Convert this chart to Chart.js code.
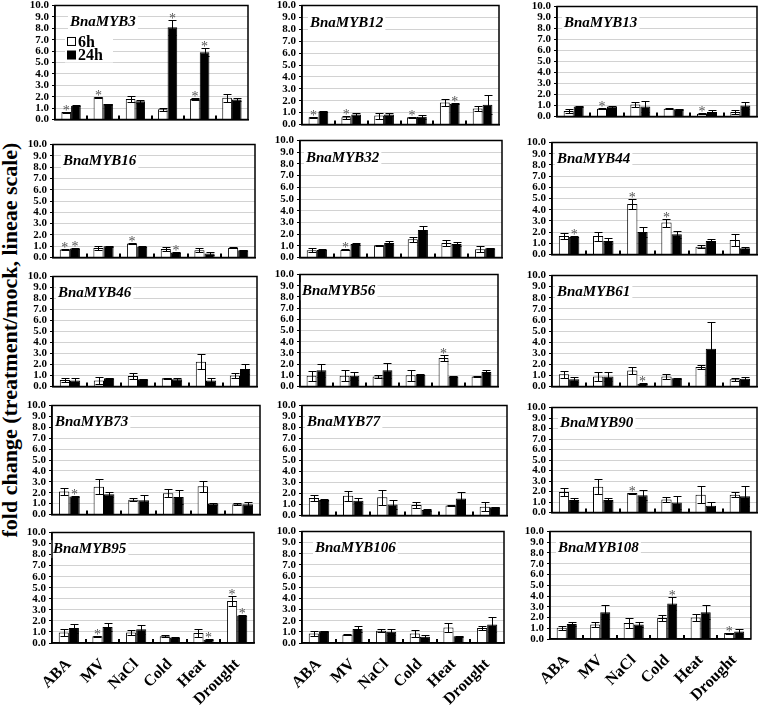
<!DOCTYPE html>
<html>
<head>
<meta charset="utf-8">
<script src="https://cdn.jsdelivr.net/npm/chart.js@4.4.0/dist/chart.umd.min.js"></script>
<style>
  body { margin: 0; background: #fff; width: 760px; height: 707px; position: relative; overflow: hidden; }
  canvas.panel { position: absolute; }
  #ytitle {
    position: absolute; left: 10px; top: 340px;
    transform: translate(-50%, -50%) rotate(-90deg);
    white-space: nowrap; font: bold 22px "Liberation Serif", serif; color: #000;
  }
</style>
</head>
<body>
<div id="ytitle">fold change (treatment/mock, lineae scale)</div>
<script>
// treatments on the x axis
var treatments = ["ABA", "MV", "NaCl", "Cold", "Heat", "Drought"];
var genes = ["BnaMYB3", "BnaMYB12", "BnaMYB13", "BnaMYB16", "BnaMYB32", "BnaMYB44",
             "BnaMYB46", "BnaMYB56", "BnaMYB61", "BnaMYB73", "BnaMYB77", "BnaMYB90",
             "BnaMYB95", "BnaMYB106", "BnaMYB108"];

// fold change after 6h
var mean6h = [
  [0.65, 1.95, 1.8, 0.9, 1.8, 1.9],
  [0.6, 0.6, 0.75, 0.6, 1.85, 1.35],
  [0.5, 0.7, 1.1, 0.7, 0.25, 0.4],
  [0.7, 0.85, 1.25, 0.75, 0.65, 0.85],
  [0.62, 0.65, 1.05, 1.55, 1.25, 0.7],
  [1.65, 1.65, 4.5, 2.85, 0.7, 1.3],
  [0.6, 0.55, 0.95, 0.75, 2.25, 1.0],
  [0.95, 0.95, 0.9, 1.0, 2.55, 0.9],
  [1.1, 0.9, 1.45, 0.9, 1.75, 0.65],
  [2.1, 2.55, 1.35, 1.95, 2.6, 0.95],
  [1.6, 1.8, 1.65, 0.95, 0.9, 0.8],
  [1.95, 2.45, 1.85, 1.25, 1.7, 1.7],
  [0.95, 0.6, 0.95, 0.6, 0.9, 3.8],
  [0.85, 0.75, 1.1, 0.85, 1.4, 1.35],
  [1.05, 1.35, 1.5, 1.95, 2.0, 0.55]
];
var err6h = [
  [0.05, 0.05, 0.25, 0.15, 0.05, 0.35],
  [0.05, 0.1, 0.25, 0.05, 0.3, 0.2],
  [0.2, 0.05, 0.2, 0.05, 0.05, 0.15],
  [0.05, 0.2, 0.05, 0.2, 0.2, 0.05],
  [0.15, 0.05, 0.05, 0.2, 0.25, 0.25],
  [0.3, 0.4, 0.45, 0.35, 0.15, 0.5],
  [0.15, 0.3, 0.3, 0.05, 0.7, 0.25],
  [0.45, 0.5, 0.15, 0.5, 0.3, 0.05],
  [0.3, 0.4, 0.3, 0.25, 0.15, 0.15],
  [0.35, 0.7, 0.15, 0.35, 0.5, 0.12],
  [0.3, 0.45, 0.7, 0.3, 0.05, 0.4],
  [0.4, 0.7, 0.05, 0.25, 0.8, 0.25],
  [0.3, 0.05, 0.25, 0.1, 0.35, 0.45],
  [0.25, 0.05, 0.15, 0.35, 0.4, 0.2],
  [0.2, 0.2, 0.45, 0.25, 0.35, 0.05]
];
// fold change after 24h
var mean24h = [
  [1.2, 1.35, 1.6, 8.1, 5.9, 1.75],
  [1.1, 0.85, 0.85, 0.65, 1.75, 1.65],
  [0.9, 0.9, 0.9, 0.65, 0.4, 1.0],
  [0.8, 1.0, 0.95, 0.45, 0.35, 0.65],
  [0.65, 1.15, 1.25, 2.35, 1.15, 0.8],
  [1.57, 1.2, 2.0, 1.8, 1.2, 0.55],
  [0.55, 0.75, 0.65, 0.65, 0.55, 1.6],
  [1.45, 0.95, 1.45, 1.05, 0.9, 1.3],
  [0.65, 0.9, 0.25, 0.75, 3.4, 0.7],
  [1.65, 1.85, 1.3, 1.6, 1.0, 0.95],
  [1.4, 1.35, 1.0, 0.5, 1.55, 0.75],
  [1.2, 1.2, 1.65, 0.95, 0.65, 1.55],
  [1.35, 1.45, 1.25, 0.5, 0.3, 2.5],
  [1.05, 1.25, 1.0, 0.55, 0.6, 1.65],
  [1.4, 2.5, 1.35, 3.3, 2.5, 0.7]
];
var err24h = [
  [0.05, 0.05, 0.15, 0.65, 0.35, 0.15],
  [0.05, 0.15, 0.15, 0.15, 0.05, 0.8],
  [0.05, 0.1, 0.5, 0.05, 0.15, 0.35],
  [0.05, 0.05, 0.05, 0.05, 0.15, 0.05],
  [0.05, 0.05, 0.2, 0.35, 0.15, 0.05],
  [0.05, 0.3, 0.45, 0.3, 0.2, 0.1],
  [0.25, 0.05, 0.05, 0.15, 0.25, 0.45],
  [0.6, 0.35, 0.65, 0.05, 0.05, 0.2],
  [0.25, 0.4, 0.05, 0.05, 2.45, 0.15],
  [0.05, 0.2, 0.45, 0.65, 0.1, 0.2],
  [0.1, 0.25, 0.4, 0.1, 0.55, 0.05],
  [0.2, 0.15, 0.5, 0.6, 0.35, 0.95],
  [0.4, 0.35, 0.4, 0.05, 0.05, 0.05],
  [0.05, 0.3, 0.25, 0.15, 0.05, 0.7],
  [0.2, 0.65, 0.25, 0.6, 0.65, 0.25]
];
// treatments marked with * (index into treatments)
var star6h = [[0, 1, 4], [0, 1, 3], [1, 4], [0, 2], [1], [2, 3], [], [4], [], [], [], [2], [1, 5], [], [5]];
var star24h = [[3, 4], [4], [], [0, 3], [], [0], [], [], [2], [0], [], [], [4, 5], [], [3]];

// plot area of each panel on the page: left, top (10.0), right, bottom (0.0)
var panelBox = [
  [55, 5, 248, 120], [302, 5, 499, 125], [557, 6, 757, 117],
  [53, 144, 255, 258], [300, 140, 502, 258], [552, 142, 757, 255],
  [53, 276, 257, 387], [300, 274, 498, 387], [552, 275, 757, 387],
  [52, 405, 260, 515], [302, 405, 507, 516], [552, 407, 757, 513],
  [52, 532, 260, 643], [302, 531, 510, 643], [550, 531, 757, 639]
];
var nameDx = [15, 8, 7, 10, 6, 5, 5, 2, 5, 3, 5, 8, 1, 13, 8];

var SERIF = '"Liberation Serif", "Times New Roman", serif';

var decor = {
  id: 'decor',
  beforeDatasetsDraw: function (chart) {
    var ctx = chart.ctx, a = chart.chartArea, y = chart.scales.y;
    var o = chart.options.plugins.decor;
    ctx.save();
    // gene name
    ctx.font = 'italic bold 15px ' + SERIF;
    ctx.textBaseline = 'middle';
    var ny = y.getPixelForValue(8.5), nx = a.left + o.dx;
    var w = ctx.measureText(o.name).width;
    ctx.fillStyle = '#fff';
    ctx.fillRect(nx - 2, ny - 9, w + 4, 18);
    ctx.fillStyle = '#000';
    ctx.fillText(o.name, nx, ny);
    if (o.legend) {
      var lx = a.left + 12;
      ctx.fillStyle = '#fff';
      ctx.fillRect(lx - 2, y.getPixelForValue(7.5), 48, y.getPixelForValue(5) - y.getPixelForValue(7.5));
      ctx.font = 'bold 16px ' + SERIF;
      var y1 = y.getPixelForValue(6.8), y2 = y.getPixelForValue(5.7);
      ctx.strokeStyle = '#000';
      ctx.lineWidth = 1;
      ctx.strokeRect(lx + 0.5, y1 - 4.5, 8, 8);
      ctx.fillStyle = '#000';
      ctx.fillRect(lx, y2 - 4, 9, 9);
      ctx.fillText(chart.data.datasets[0].label, lx + 11, y1 + 1);
      ctx.fillText(chart.data.datasets[1].label, lx + 11, y2 + 1);
    }
    ctx.restore();
  },
  afterDatasetsDraw: function (chart) {
    var ctx = chart.ctx, a = chart.chartArea, y = chart.scales.y;
    ctx.save();
    chart.data.datasets.forEach(function (ds, di) {
      var meta = chart.getDatasetMeta(di);
      meta.data.forEach(function (bar, i) {
        var v = ds.data[i], e = ds.errors[i];
        var cx = Math.round(bar.x) + 0.5;
        var yt = Math.round(y.getPixelForValue(v + e)) + 0.5;
        var yb = Math.round(y.getPixelForValue(Math.max(v - e, 0))) + 0.5;
        ctx.strokeStyle = '#000';
        ctx.lineWidth = 1;
        ctx.beginPath();
        ctx.moveTo(cx, yt); ctx.lineTo(cx, yb);
        ctx.moveTo(cx - 4, yt); ctx.lineTo(cx + 4, yt);
        ctx.moveTo(cx - 4, yb); ctx.lineTo(cx + 4, yb);
        ctx.stroke();
        if (ds.stars.indexOf(i) >= 0) {
          ctx.fillStyle = '#555';
          ctx.font = '14px ' + SERIF;
          ctx.textAlign = 'center';
          ctx.textBaseline = 'alphabetic';
          ctx.fillText('*', bar.x, yt + 2);
        }
      });
    });
    // frame and inner ticks on the x axis
    ctx.strokeStyle = '#000';
    ctx.lineWidth = 1.5;
    ctx.strokeRect(a.left, a.top, a.right - a.left, a.bottom - a.top);
    ctx.lineWidth = 2;
    ctx.beginPath();
    for (var k = 1; k < 6; k++) {
      var tx = Math.round(a.left + k * (a.right - a.left) / 6);
      ctx.moveTo(tx, a.bottom); ctx.lineTo(tx, a.bottom - 4);
    }
    ctx.stroke();
    ctx.restore();
  }
};

genes.forEach(function (name, g) {
  var row = Math.floor(g / 3);
  var box = panelBox[g];
  var L = box[0], T = box[1], R = box[2], B = box[3];
  var yW = 48, padT = 8, padR = 3;
  var last = row === 4;
  var xh = last ? 64 : 2, padB = last ? 2 : 6;
  var cv = document.createElement('canvas');
  cv.className = 'panel';
  cv.width = R - L + yW + padR;
  cv.height = B - T + padT + xh + padB;
  cv.style.left = (L - yW) + 'px';
  cv.style.top = (T - padT) + 'px';
  document.body.appendChild(cv);

  new Chart(cv.getContext('2d'), {
    type: 'bar',
    data: {
      labels: treatments,
      datasets: [{
        label: '6h',
        data: mean6h[g],
        errors: err6h[g],
        stars: star6h[g],
        backgroundColor: '#fff',
        borderColor: '#000',
        borderWidth: 1
      }, {
        label: '24h',
        data: mean24h[g],
        errors: err24h[g],
        stars: star24h[g],
        backgroundColor: '#000',
        borderColor: '#000',
        borderWidth: 1
      }]
    },
    options: {
      responsive: false,
      animation: false,
      devicePixelRatio: 1,
      events: [],
      categoryPercentage: 0.6,
      barPercentage: 1.0,
      layout: { padding: { top: padT, right: padR, bottom: padB, left: 0 } },
      plugins: {
        legend: { display: false },
        tooltip: { enabled: false },
        decor: { name: name, dx: nameDx[g], legend: g === 0 }
      },
      scales: {
        x: {
          grid: { display: true, drawOnChartArea: false, drawTicks: false, offset: true },
          border: { color: '#000', width: 1.5 },
          ticks: {
            display: last,
            autoSkip: false,
            minRotation: 45,
            maxRotation: 45,
            padding: 12,
            color: '#000',
            font: { family: SERIF, weight: 'bold', size: 16 }
          },
          afterFit: function (s) { s.height = xh; }
        },
        y: {
          min: 0,
          max: 10,
          ticks: {
            stepSize: 1,
            autoSkip: false,
            padding: 3,
            color: '#000',
            font: { family: SERIF, weight: 'bold', size: 11, lineHeight: 1 },
            callback: function (v) { return v.toFixed(1); }
          },
          grid: { color: '#d2d2d2', tickColor: '#000', tickLength: 3, lineWidth: 1 },
          border: { color: '#000', width: 1.5 },
          afterFit: function (s) { s.width = yW; }
        }
      }
    },
    plugins: [decor]
  });
});
</script>
</body>
</html>
